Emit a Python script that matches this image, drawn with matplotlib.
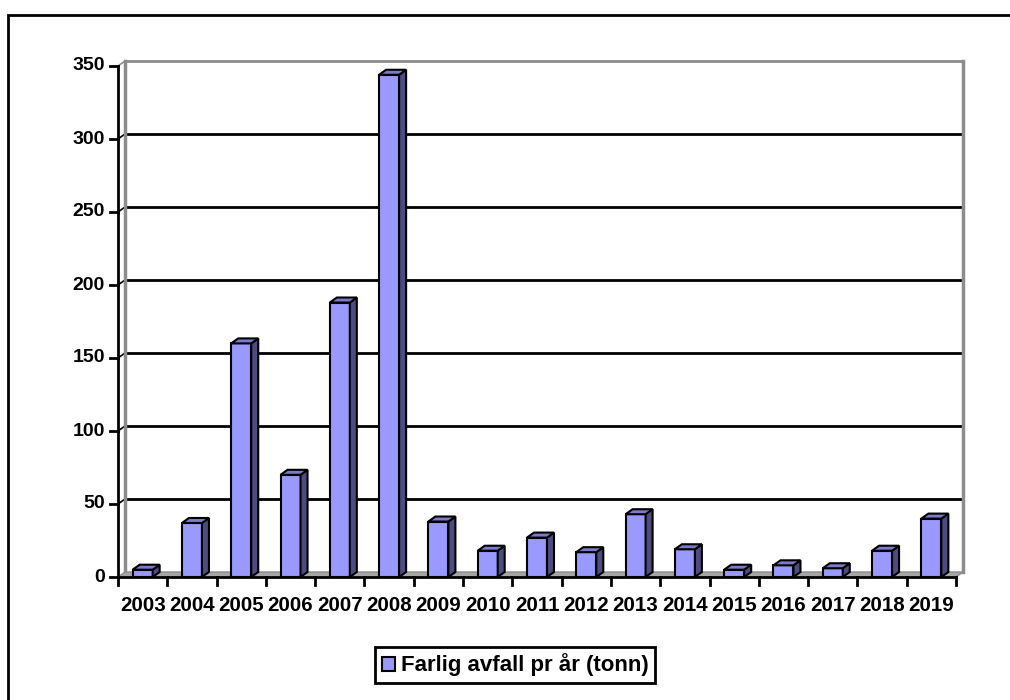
"""
Farlig avfall pr år: 3D-lignende søylediagram med matplotlib
"""
import matplotlib
matplotlib.use("Agg")
import matplotlib.pyplot as plt
from matplotlib.patches import Polygon, Rectangle, Patch

plt.rcParams["font.family"] = ["Liberation Sans", "DejaVu Sans"]
plt.rcParams["font.weight"] = "bold"

years = ["2003", "2004", "2005", "2006", "2007", "2008", "2009", "2010", "2011",
         "2012", "2013", "2014", "2015", "2016", "2017", "2018", "2019"]
tonn = [5, 37, 160, 70, 188, 344, 38, 18, 27, 17, 43, 19, 5, 8, 6, 18, 40]
y_ticks = [0, 50, 100, 150, 200, 250, 300, 350]
series_name = "Farlig avfall pr år (tonn)"

FRONT = "#9999FF"
TOP = "#7B7BCC"
SIDE = "#4C4C80"
GRID_GRAY = "#8C8C8C"

W, H = 1010, 700
fig = plt.figure(figsize=(W / 100, H / 100), dpi=100)

# plot area in pixels
x0_px, x1_px = 118, 964
y0_px, y1_px = 577, 62
cat_px = (956 - 118) / len(years)
ax = fig.add_axes([x0_px / W, (H - y0_px) / H, (x1_px - x0_px) / W, (y0_px - y1_px) / H])

ymax = y_ticks[-1]
px_per_unit = (577 - 66) / ymax
dx = 7 / cat_px          # depth offset in category units
dy = 5 / px_per_unit     # depth offset in value units
xl, xr = -0.5, len(years) - 0.5
ax.set_xlim(xl, xl + (x1_px - x0_px) / cat_px)
ax.set_ylim(0, (y0_px - y1_px) / px_per_unit)
ax.axis("off")

# back wall: gridlines, with short diagonals back from the front axis
for v in y_ticks[1:]:
    col = GRID_GRAY if v == ymax else "black"
    ax.plot([xl + dx, xr + dx], [v + dy, v + dy], color=col, lw=2, zorder=1,
            solid_capstyle="butt")
    ax.plot([xl, xl + dx], [v, v + dy], color=col, lw=1.2, zorder=1)
ax.plot([xl + dx, xl + dx], [dy, ymax + dy], color=GRID_GRAY, lw=2.5, zorder=1)
ax.plot([xr + dx, xr + dx], [dy, ymax + dy], color=GRID_GRAY, lw=2.5, zorder=1)

# floor
ax.add_patch(Polygon([(xl, 0), (xr, 0), (xr + dx, dy), (xl + dx, dy)],
                     closed=True, facecolor="#A6A6A6", edgecolor=GRID_GRAY,
                     lw=1, zorder=2))

# columns with front, side and top faces
bw = 20 / cat_px
for i, v in enumerate(tonn):
    l, r = i - bw / 2, i + bw / 2
    ax.bar(i, v, width=bw, color=FRONT, edgecolor="black", linewidth=1.5, zorder=3)
    ax.add_patch(Polygon([(r, 0), (r + dx, dy), (r + dx, v + dy), (r, v)],
                         closed=True, facecolor=SIDE, edgecolor="black",
                         lw=1.5, zorder=3))
    ax.add_patch(Polygon([(l, v), (r, v), (r + dx, v + dy), (l + dx, v + dy)],
                         closed=True, facecolor=TOP, edgecolor="black",
                         lw=1.5, zorder=3))

# front axes
ax.plot([xl, xl], [0, ymax], color="black", lw=2, zorder=4)
ax.plot([xl, xr], [0, 0], color="black", lw=2, zorder=4)
tick_y = 8 / px_per_unit
tick_x = 8 / cat_px
for v in y_ticks:
    ax.plot([xl - tick_x, xl], [v, v], color="black", lw=2, zorder=4)
    ax.text(xl - tick_x - 0.1, v, str(v), ha="right", va="center",
            fontsize=14, fontweight="bold", zorder=5)
for k in range(len(years) + 1):
    ax.plot([xl + k, xl + k], [0, -tick_y], color="black", lw=2, zorder=4)
for i, yr in enumerate(years):
    ax.text(i, -19 / px_per_unit, yr, ha="center", va="top", fontsize=14.8,
            fontweight="bold", clip_on=False)
for line in ax.lines:
    line.set_clip_on(False)

# legend
handle = Patch(facecolor=FRONT, edgecolor="black", linewidth=1.5)
leg = fig.legend([handle], [series_name], loc="center",
                 bbox_to_anchor=(515 / W, 1 - 665 / H), fancybox=False,
                 edgecolor="black", framealpha=1, handlelength=0.6,
                 handleheight=0.6, handletextpad=0.25, borderpad=0.3,
                 borderaxespad=0, prop={"size": 16, "weight": "bold"})
leg.get_frame().set_linewidth(2)

# outer chart border
fig.add_artist(Rectangle((8 / W, -0.05), 1.1, 1 - 15 / H + 0.05,
                         transform=fig.transFigure, fill=False,
                         edgecolor="black", lw=2))

fig.savefig("out.png", dpi=100)
plt.close(fig)
